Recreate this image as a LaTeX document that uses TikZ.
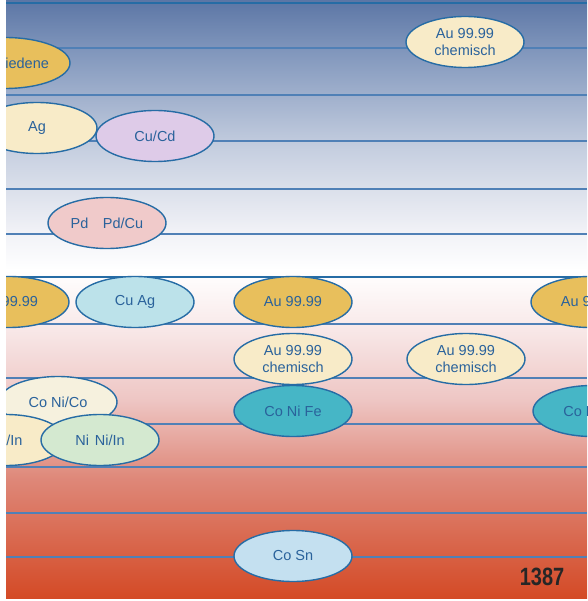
\documentclass[tikz,border=0pt]{standalone}
\usepackage{fontspec}
\setmainfont{Liberation Sans}
\usetikzlibrary{shapes.geometric}

\definecolor{bgtop}{RGB}{92,118,165}
\definecolor{bgupper}{RGB}{128,150,188}
\definecolor{bgmid}{RGB}{198,207,224}
\definecolor{bgpale}{RGB}{240,241,246}
\definecolor{bgwhite}{RGB}{255,255,255}
\definecolor{bgpink}{RGB}{249,236,236}
\definecolor{bgrose}{RGB}{238,198,196}
\definecolor{bgred}{RGB}{222,135,120}
\definecolor{bgbottom}{RGB}{212,74,38}
\pgfdeclareverticalshading{backdrop}{100bp}{%
  color(0bp)=(bgbottom); color(25bp)=(bgbottom); color(34.9bp)=(bgred);
  color(41.6bp)=(bgrose); color(48.2bp)=(bgpink); color(52.4bp)=(bgwhite);
  color(55.8bp)=(bgpale); color(62.5bp)=(bgmid); color(70.8bp)=(bgupper);
  color(75bp)=(bgtop); color(100bp)=(bgtop)}

\definecolor{lineblue}{RGB}{80,128,182}
\definecolor{edgeblue}{RGB}{38,108,165}
\definecolor{textblue}{RGB}{42,98,155}
\definecolor{goldfill}{RGB}{232,191,92}
\definecolor{creamfill}{RGB}{248,235,200}
\definecolor{palecream}{RGB}{246,241,222}
\definecolor{lilacfill}{RGB}{222,203,232}
\definecolor{rosefill}{RGB}{240,202,202}
\definecolor{icefill}{RGB}{188,226,234}
\definecolor{skyfill}{RGB}{196,224,240}
\definecolor{tealfill}{RGB}{70,182,198}
\definecolor{mintfill}{RGB}{212,233,208}

\begin{document}
\begin{tikzpicture}[x=1pt,y=-1pt,
    track/.style={lineblue, line width=1.4pt},
    blob/.style={ellipse, draw=edgeblue, line width=1.4pt, inner sep=0pt,
      minimum width=118pt, minimum height=51pt, text=textblue, align=center,
      font=\fontsize{14.5}{17.5}\selectfont}]
    \useasboundingbox (0,0) rectangle (587,601);
    \fill[white] (0,0) rectangle (587,601);

    \begin{scope}
        \clip (6,0) rectangle (587,598);
        \shade[shading=backdrop] (6,0) rectangle (587,598);

        \draw[edgeblue, line width=2pt] (6,3) -- (587,3);
        \foreach \y in {48,95,141,189,234,324,378,424,467,513,557}
            \draw[track] (6,\y) -- (587,\y);
        \draw[edgeblue, line width=2.4pt] (6,277) -- (587,277);

        \node[blob, fill=goldfill, minimum width=130pt] (verschiedene) at (5,63) {Verschiedene};
        \node[blob, fill=creamfill] (chemtop) at (465,42) {Au 99.99\\chemisch};
        \node[blob, fill=creamfill, minimum width=120pt] (ag) at (37,128) {Ag};
        \node[blob, fill=lilacfill] (cucd) at (155,136) {Cu/Cd};
        \node[blob, fill=rosefill] (pd) at (107,223) {Pd\hspace{1em}Pd/Cu};

        \node[blob, fill=goldfill, minimum width=120pt] (auleft) at (9,302) {Au 99.99};
        \node[blob, fill=icefill] (cuag) at (135,302) {Cu Ag};
        \node[blob, fill=goldfill] (aumid) at (293,302) {Au 99.99};
        \node[blob, fill=goldfill] (auright) at (590,302) {Au 99.99};

        \node[blob, fill=creamfill] (chemmid) at (293,359) {Au 99.99\\chemisch};
        \node[blob, fill=creamfill] (chemright) at (466,359) {Au 99.99\\chemisch};

        \node[blob, fill=palecream] (coni) at (58,402) {Co Ni/Co};
        \node[blob, fill=creamfill] (fein) at (6,440) {Fe/In};
        \node[blob, fill=mintfill] (nini) at (100,440) {Ni\hspace{0.4em}Ni/In};
        \node[blob, fill=tealfill] (conife) at (293,411) {Co Ni Fe};
        \node[blob, fill=tealfill] (coright) at (592,411) {Co Ni Fe};

        \node[blob, fill=skyfill] (cosn) at (293,556) {Co Sn};
    \end{scope}

    \node[font=\fontsize{25}{25}\selectfont\bfseries, text=black!85] (pagenum) at (542,577) {\scalebox{0.8}[1]{1387}};
\end{tikzpicture}
\end{document}
